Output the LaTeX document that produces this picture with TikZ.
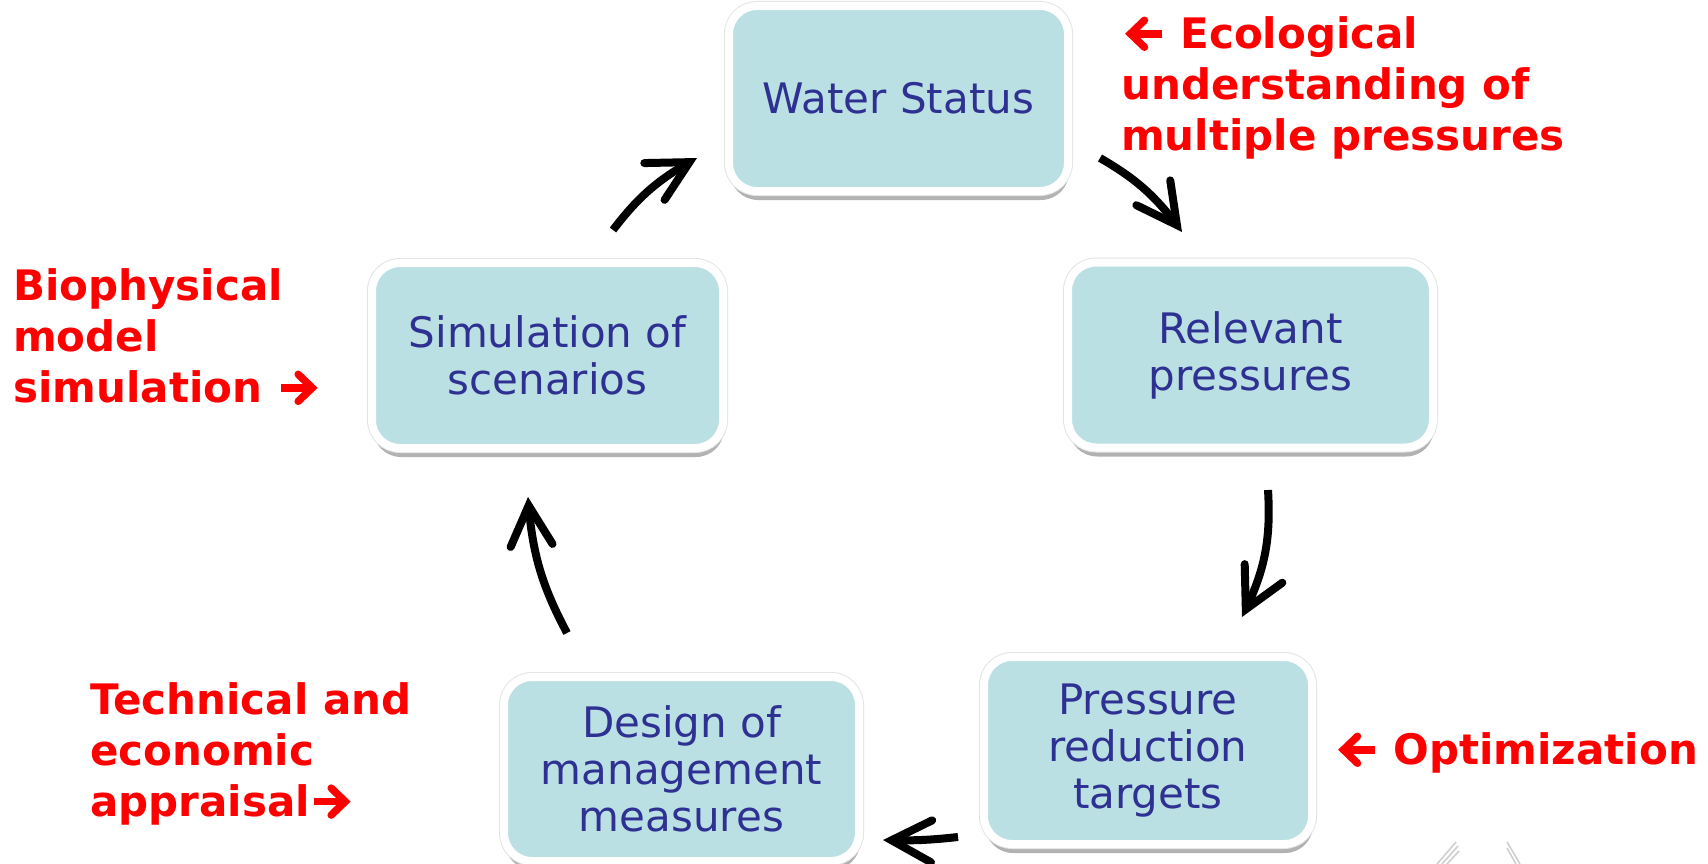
\documentclass[tikz,border=0pt]{standalone}
\usepackage{graphicx}
\usepackage{fontspec}
\setmainfont{DejaVu Sans}
\usetikzlibrary{arrows.meta,shadows,bending}
\definecolor{boxfill}{RGB}{187,224,227}
\definecolor{boxtext}{RGB}{46,49,146}
\definecolor{redtext}{RGB}{255,0,0}
\definecolor{logogray}{RGB}{205,205,205}
\definecolor{edgegray}{RGB}{228,228,228}
\tikzset{
  stepbox/.style={rectangle, rounded corners=28pt, fill=boxfill, draw=white,
    line width=8pt, text=boxtext, font=\fontsize{42}{47}\selectfont,
    align=center, inner sep=0pt,
    drop shadow={shadow xshift=1pt, shadow yshift=-9pt, opacity=0.3, fill=black},
    preaction={draw=edgegray, line width=10pt}},
  note/.style={text=redtext, font=\fontsize{42}{51}\selectfont\bfseries,
    align=left, inner sep=0pt, anchor=west},
  flow/.style={line width=8pt, black,
    -{Straight Barb[length=40pt,width=42pt,line cap=round]}},
  notearrow/.style={redtext, line width=7.5pt,
    -{Straight Barb[length=14pt,width=27pt,line cap=round]}},
}
\newcommand{\rarr}{\tikz[x=1pt,y=1pt,baseline=-15pt]\draw[notearrow] (0,0) -- (37,0);}
\newcommand{\larr}{\tikz[x=1pt,y=1pt,baseline=-15pt]\draw[notearrow] (37,0) -- (0,0);}
\begin{document}
\begin{tikzpicture}[x=1pt,y=-1pt]
\useasboundingbox (0,0) rectangle (1708,864);
\fill[white] (0,0) rectangle (1708,864);

% boxes
\node[stepbox, minimum width=339pt, minimum height=185pt] (water) at (898.5,98.5) {Water Status};
\node[stepbox, minimum width=365pt, minimum height=185pt] (relevant) at (1250.5,355) {Relevant\\pressures};
\node[stepbox, minimum width=351pt, minimum height=185pt] (sim) at (547.5,355.5) {Simulation of\\scenarios};
\node[stepbox, minimum width=328pt, minimum height=187pt] (target) at (1148,750.5) {Pressure\\reduction\\targets};
\node[stepbox, minimum width=355pt, minimum height=184pt] (design) at (681.5,769) {Design of\\management\\measures};

% arrow end points
\coordinate (a1s) at (613,230); \coordinate (a1e) at (697,158);
\coordinate (a2s) at (1100,158); \coordinate (a2e) at (1182,232);
\coordinate (a3s) at (1268,490); \coordinate (a3e) at (1242,617);
\coordinate (a4s) at (958,837); \coordinate (a4e) at (883,840);
\coordinate (a5s) at (567,633); \coordinate (a5e) at (528,497);

\draw[flow] (a1s) to[bend left=12] (a1e);
\draw[flow] (a2s) to[bend left=12] (a2e);
\draw[flow] (a3s) to[bend left=15] (a3e);
\draw[flow] (a4s) to[bend left=4] (a4e);
\draw[flow] (a5s) to[bend left=12] (a5e);

% red notes
\node[note] (eco) at (1121,88) {\larr\ Ecological\\understanding of\\multiple pressures};
\node[note] (bio) at (13,337) {Biophysical\\model\\simulation \rarr};
\node[note] (tech) at (90,754) {Technical and\\economic\\appraisal\rarr};
\node[note] (opt) at (1334,753) {\larr\ Optimization};

% faint logo fragment
\draw[logogray, line width=1.5pt] (1437,864) -- (1456,842);
\draw[logogray, line width=1.5pt] (1442,864) -- (1458,846);
\draw[logogray, line width=1.5pt] (1447,864) -- (1459,851);
\draw[logogray, line width=1.5pt] (1507,842) -- (1520,864);
\draw[logogray, line width=1.5pt] (1507,848) -- (1516,864);
\end{tikzpicture}
\end{document}
